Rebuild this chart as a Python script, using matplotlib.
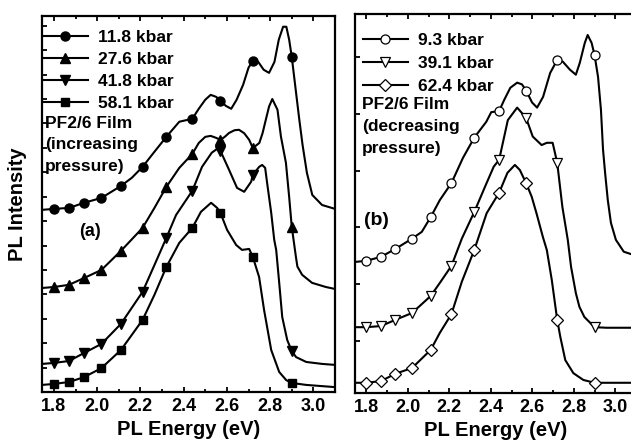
import numpy as np
import matplotlib
matplotlib.use("Agg")
import matplotlib.pyplot as plt
from matplotlib.ticker import MultipleLocator, NullFormatter

plt.rcParams['font.family'] = ['Liberation Sans', 'DejaVu Sans']
plt.rcParams['font.weight'] = 'bold'

# energies where symbols sit on every curve
MARK_E = [1.80, 1.87, 1.94, 2.02, 2.11, 2.21, 2.32, 2.44, 2.57, 2.72, 2.90]

# (a) increasing pressure
E_118 = [1.745, 1.80, 1.87, 1.94, 2.02, 2.11, 2.16, 2.21, 2.265, 2.32, 2.38, 2.44, 2.47, 2.50,
         2.525, 2.55, 2.57, 2.595, 2.62, 2.645, 2.675, 2.70, 2.72, 2.745, 2.77, 2.795, 2.82,
         2.84, 2.86, 2.875, 2.888, 2.90, 2.92, 2.935, 2.95, 2.97, 2.995, 3.04, 3.1]
I_118 = [7.46, 7.50, 7.54, 7.75, 7.95, 8.44, 8.77, 9.22, 9.84, 10.45, 11.07, 11.19, 11.6, 11.97,
         12.17, 12.09, 11.93, 11.72, 11.60, 11.97, 12.58, 13.28, 13.57, 13.52, 13.20, 13.07, 13.52,
         14.43, 14.96, 14.96, 14.43, 13.73, 12.25, 11.15, 10.12, 8.98, 8.07, 7.66, 7.50]

E_276 = [1.745, 1.80, 1.87, 1.94, 2.02, 2.11, 2.21, 2.265, 2.32, 2.38, 2.44, 2.47, 2.50, 2.525,
         2.55, 2.57, 2.59, 2.61, 2.635, 2.656, 2.68, 2.703, 2.72, 2.75, 2.765, 2.78, 2.795, 2.81,
         2.834, 2.85, 2.873, 2.888, 2.90, 2.919, 2.926, 2.948, 2.994, 3.058, 3.1]
I_276 = [4.26, 4.30, 4.39, 4.67, 5.0, 5.78, 6.72, 7.54, 8.40, 9.18, 9.75, 10.20, 10.45, 10.49,
         10.41, 10.33, 10.45, 10.61, 10.72, 10.74, 10.60, 10.33, 9.99, 10.2, 10.6, 11.15, 11.69, 12.0,
         11.56, 10.46, 9.39, 7.99, 6.77, 5.55, 5.14, 4.80, 4.47, 4.30, 4.22]

E_418 = [1.745, 1.80, 1.87, 1.94, 2.02, 2.11, 2.21, 2.265, 2.32, 2.365, 2.44, 2.485, 2.53, 2.555,
         2.57, 2.61, 2.647, 2.68, 2.712, 2.72, 2.749, 2.763, 2.777, 2.786, 2.805, 2.819, 2.828,
         2.842, 2.856, 2.879, 2.90, 2.92, 2.967, 3.041, 3.1]
I_418 = [1.15, 1.19, 1.27, 1.60, 1.97, 2.79, 4.10, 5.20, 6.31, 7.25, 8.24, 9.22, 9.80, 9.96,
         9.88, 9.10, 8.36, 8.20, 8.61, 8.89, 9.22, 9.30, 9.18, 8.57, 7.34, 6.23, 5.82,
         4.47, 3.07, 2.13, 1.68, 1.43, 1.23, 1.15, 1.11]

E_581 = [1.745, 1.80, 1.87, 1.94, 2.02, 2.11, 2.21, 2.265, 2.32, 2.38, 2.44, 2.48, 2.527, 2.555,
         2.57, 2.601, 2.643, 2.67, 2.703, 2.72, 2.749, 2.772, 2.805, 2.842, 2.874, 2.90, 2.967, 3.1]
I_581 = [0.29, 0.33, 0.41, 0.61, 0.98, 1.72, 2.95, 3.98, 5.12, 6.11, 6.72, 7.38, 7.75, 7.54,
         7.34, 6.64, 6.02, 5.82, 5.86, 5.53, 4.71, 3.36, 1.72, 0.82, 0.49, 0.37, 0.29, 0.20]

# (b) decreasing pressure
E_93 = [1.745, 1.80, 1.87, 1.94, 2.02, 2.067, 2.11, 2.154, 2.21, 2.265, 2.32, 2.378, 2.402, 2.44,
        2.465, 2.494, 2.527, 2.55, 2.57, 2.599, 2.623, 2.652, 2.686, 2.72, 2.747, 2.781, 2.81,
        2.829, 2.853, 2.867, 2.886, 2.90, 2.917, 2.931, 2.941, 2.951, 2.964, 2.979, 3.003, 3.041, 3.1]
I_93 = [1.39, 1.41, 1.48, 1.62, 1.80, 1.92, 2.18, 2.48, 2.78, 3.22, 3.58, 3.86, 4.03, 4.05,
        4.25, 4.46, 4.55, 4.52, 4.41, 4.20, 4.11, 4.30, 4.72, 4.95, 4.92, 4.78, 4.69,
        4.90, 5.25, 5.39, 5.25, 5.04, 4.65, 4.07, 3.37, 2.96, 2.48, 2.08, 1.78, 1.57, 1.50]

E_391 = [1.745, 1.80, 1.87, 1.94, 2.02, 2.11, 2.154, 2.21, 2.26, 2.32, 2.376, 2.414, 2.44, 2.482,
         2.527, 2.57, 2.602, 2.645, 2.67, 2.698, 2.72, 2.745, 2.771, 2.787, 2.81, 2.827, 2.851,
         2.90, 2.958, 3.1]
I_391 = [0.24, 0.24, 0.26, 0.37, 0.49, 0.79, 1.02, 1.32, 1.80, 2.27, 2.75, 3.07, 3.19, 3.89,
         4.11, 3.93, 3.60, 3.45, 3.49, 3.49, 3.14, 2.36, 1.78, 1.30, 0.84, 0.60, 0.42,
         0.24, 0.23, 0.23]

E_624 = [1.745, 1.80, 1.87, 1.94, 2.02, 2.11, 2.154, 2.21, 2.26, 2.32, 2.38, 2.44, 2.48, 2.516,
         2.54, 2.57, 2.597, 2.62, 2.651, 2.67, 2.694, 2.72, 2.735, 2.759, 2.798, 2.846, 2.90, 3.1]
I_624 = [-0.74, -0.74, -0.71, -0.58, -0.48, -0.16, 0.14, 0.47, 1.04, 1.60, 2.25, 2.61, 2.96, 3.10,
         3.01, 2.78, 2.54, 2.25, 1.83, 1.60, 1.07, 0.37, 0.07, -0.34, -0.57, -0.69, -0.74, -0.74]

LABELS_A = ['11.8 kbar', '27.6 kbar', '41.8 kbar', '58.1 kbar']
LABELS_B = ['9.3 kbar', '39.1 kbar', '62.4 kbar']


def mark_idx(E):
    E = np.asarray(E)
    return [int(np.argmin(np.abs(E - m))) for m in MARK_E]


def style_axes(ax, ylim, ystep):
    ax.set_xlim(1.745, 3.1)
    ax.set_ylim(*ylim)
    ax.xaxis.set_major_locator(MultipleLocator(0.2))
    ax.xaxis.set_minor_locator(MultipleLocator(0.1))
    ax.yaxis.set_major_locator(MultipleLocator(ystep))
    ax.yaxis.set_major_formatter(NullFormatter())
    ax.tick_params(which='both', direction='in', top=True, right=False, width=1.3,
                   labelsize=13, pad=4)
    ax.tick_params(which='major', length=3.5)
    ax.tick_params(which='minor', length=2.5)
    for s in ax.spines.values():
        s.set_linewidth(1.6)
    ax.set_xlabel('PL Energy (eV)', fontsize=14.5, fontweight='bold', labelpad=4)
    for t in ax.get_xticklabels():
        t.set_fontweight('bold')


fig = plt.figure(figsize=(6.31, 4.41), dpi=100)
axa = fig.add_axes([42 / 631, 49 / 441, 293 / 631, 376 / 441])
axb = fig.add_axes([355 / 631, 48 / 441, 281 / 631, 379 / 441])

curves_a = [(E_118, I_118, 'o', 6.5), (E_276, I_276, '^', 7), (E_418, I_418, 'v', 7),
            (E_581, I_581, 's', 5.8)]
for (E, I, m, ms), lab in zip(curves_a, LABELS_A):
    axa.plot(E, I, color='black', lw=1.5, marker=m, ms=ms, mfc='black', mec='black',
             markevery=mark_idx(E), label=lab)

curves_b = [(E_93, I_93, 'o', 6.5), (E_391, I_391, 'v', 7.5), (E_624, I_624, 'D', 6)]
for (E, I, m, ms), lab in zip(curves_b, LABELS_B):
    axb.plot(E, I, color='black', lw=1.5, marker=m, ms=ms, mfc='white', mec='black',
             mew=0.9, markevery=mark_idx(E), label=lab)

style_axes(axa, (0, 15.4), 1)
style_axes(axb, (-0.92, 5.76), 1)
axa.set_ylabel('PL Intensity', fontsize=14.5, fontweight='bold', labelpad=7)

leg_kw = dict(frameon=False, handlelength=2.6, handletextpad=0.55,
              borderaxespad=0, borderpad=0, prop={'weight': 'bold', 'size': 12.5})
axa.legend(loc='upper left', bbox_to_anchor=(0.003, 0.962), labelspacing=0.38, **leg_kw)
axb.legend(loc='upper left', bbox_to_anchor=(0.028, 0.95), labelspacing=0.45, **leg_kw)

axa.text(0.01, 0.735, 'PF2/6 Film\n(increasing\npressure)', transform=axa.transAxes,
         ha='left', va='top', fontsize=12.5, fontweight='bold', linespacing=1.55)
axb.text(0.025, 0.78, 'PF2/6 Film\n(decreasing\npressure)', transform=axb.transAxes,
         ha='left', va='top', fontsize=12.5, fontweight='bold', linespacing=1.55)
axa.text(0.164, 0.426, '(a)', transform=axa.transAxes, ha='center', va='center',
         fontsize=13, fontweight='bold')
axb.text(0.075, 0.454, '(b)', transform=axb.transAxes, ha='center', va='center',
         fontsize=14, fontweight='bold')

fig.savefig('out.png', dpi=100)
